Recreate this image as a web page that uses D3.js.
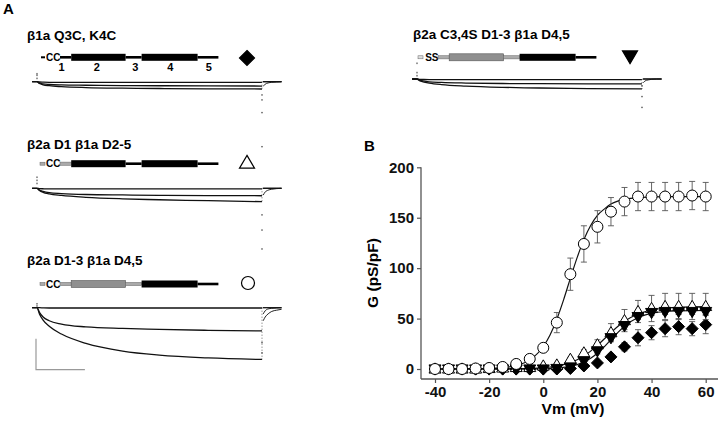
<!DOCTYPE html>
<html><head><meta charset="utf-8">
<script src="https://cdn.jsdelivr.net/npm/d3@7"></script>
<style>body{margin:0;background:#fff} svg{display:block;font-family:"Liberation Sans",Arial,sans-serif}</style>
</head><body><svg id="c" width="720" height="421"></svg>
<script>
// ---------- Panel B data ----------
const vm        = [-40,-35,-30,-25,-20,-15,-10,-5,0,5,10,15,20,25,30,35,40,45,50,55,60];
const gCircle   = [0,0,0,0.5,1,2,5,10,21,46,94,124,141,156,166,171,171,171,171,172,171];
const eCircle   = [0,0,0,0.5,1,1.5,2,3,4,10,16,18,16,14,14,14,14,14,14,14,14];
const gTriUp    = [0,0,0,0,0.5,1,1.5,1.5,3,4,9.6,16,24,36,48,57,60,62,62,62,62];
const eTriUp    = [0,0,0,0,0,0,0.5,0.5,1,1.5,2,3,5,9,11,11,13,13,13,13,13];
const gTriDown  = [0,0,0,0,0,0,0,0,0,0.5,2,8,18,31,43,52,56,57,57,57,57];
const eTriDown  = [0,0,0,0,0,0,0,0,0,0,1,2,3,3,4,3,3,3,3,3,3];
const gDiamond  = [0,0,0,0,0,0,0,0,0,0,0.5,3,6,12,22,31,36,40,42,40,44];
const eDiamond  = [0,0,0,0,0,0,0,0,0,0,1,1,2,3,4,8,7,8,8,7,9];
// fitted curves
const fitV       = [-40,-20,-15,-10,-5,0,2.5,5,7.5,10,12.5,15,17.5,20,22.5,25,27.5,30,35,40,45,50,60];
const fitCircle  = [0,0.5,1.3,3.4,8.9,22.3,33.8,49.4,68.6,89.8,110.4,128.3,142.3,152.4,158.5,163.6,166.5,168.2,170,170.6,171,171,171];
const fitTriUp   = [0,0.05,0.11,0.25,0.58,1.32,1.97,2.94,4.37,6.37,9.19,12.9,17.7,23.4,29.7,36.1,42.1,47.3,54.6,58.5,60.5,61.3,61.9];
const fitTriDown = [0,0,0.02,0.05,0.14,0.39,0.64,1.04,1.7,2.75,4.4,6.9,10.6,15.6,21.9,29,36.1,42.4,51.1,55.2,57,57.6,58];
const xTicks = [-40,-20,0,20,40,60];
const yTicks = [0,50,100,150,200];

// ---------- Panel A data ----------
const titles = ["β1a Q3C, K4C","β2a D1 β1a D2-5","β2a D1-3 β1a D4,5","β2a C3,4S D1-3 β1a D4,5"];
const tTrace = [-2,0,1,2.5,5,10,20,35,50,70,92];
const tTail  = [92.5,93.3,94.5,96,98,100];
const traces = [
  [[0,0,-0.06,-0.1,-0.13,-0.16,-0.19,-0.21,-0.22,-0.23,-0.235],
   [0,0,-0.04,-0.07,-0.09,-0.105,-0.115,-0.125,-0.13,-0.135,-0.14],
   [0,0,-0.01,-0.015,-0.02,-0.02,-0.02,-0.02,-0.02,-0.02,-0.02]],
  [[0,0,-0.07,-0.13,-0.18,-0.23,-0.29,-0.34,-0.37,-0.40,-0.43],
   [0,0,-0.06,-0.1,-0.14,-0.17,-0.2,-0.215,-0.225,-0.235,-0.24],
   [0,0,-0.01,-0.015,-0.02,-0.02,-0.02,-0.02,-0.02,-0.02,-0.02]],
  [[0,0,-0.2,-0.4,-0.6,-0.85,-1.15,-1.4,-1.53,-1.62,-1.67],
   [0,0,-0.15,-0.3,-0.42,-0.53,-0.62,-0.67,-0.7,-0.73,-0.75],
   [0,0,0,-0.005,-0.01,-0.01,-0.01,-0.01,-0.01,-0.01,-0.01]],
  [[0,0,-0.05,-0.09,-0.13,-0.18,-0.23,-0.27,-0.29,-0.31,-0.32],
   [0,0,-0.04,-0.06,-0.09,-0.11,-0.13,-0.145,-0.15,-0.155,-0.16],
   [0,0,-0.01,-0.015,-0.02,-0.02,-0.02,-0.02,-0.02,-0.02,-0.02]]
];
const tails = [
  [[-0.15,-0.08,-0.04,-0.02,-0.01,0],[0,0,0,0,0,0]],
  [[-0.22,-0.12,-0.06,-0.03,-0.01,0],[0,0,0,0,0,0]],
  [[-0.42,-0.3,-0.2,-0.12,-0.08,-0.05],[-0.2,-0.1,-0.04,-0.02,-0.01,0]],
  [[-0.12,-0.06,-0.03,-0.01,0,0],[0,0,0,0,0,0]]
];
const spikes  = [[0.2,0.1,0.25],[0.35,0.15,0.25],[0.12,0.05],[0.5,0.2,0.1]];
const tailDots = [[-0.43,-0.59,-1.0],[-0.86,-1.35,-1.96,1.34],[-1.13,-1.46],[-0.23,-0.57,-0.92]];
// construct domains (relative positions) and colouring per construct
const domainStart = [0,7,41,51,86];
const domainEnd   = [7,41,51,86,99];
const domainIsBox = [false,true,false,true,false];
const domainGray  = [[0,0,0,0,0],[1,0,0,0,0],[1,1,1,0,0],[1,1,1,0,0]];
const prefix = ["CC","CC","CC","SS"];
const domainNums = ["1","2","3","4","5"];

const svg = d3.select("#c");
const font = '"Liberation Sans",Arial,sans-serif';

// ---------- Panel A ----------
svg.append("text").attr("x",3).attr("y",14).attr("font-size",15).attr("font-weight","bold").text("A");
svg.append("text").attr("x",364).attr("y",151).attr("font-size",15).attr("font-weight","bold").text("B");

const panels = [
  {x0:37, base:81.7, title:[27,40], con:[60,57.3], mark:[247,58], sym:"diamond"},
  {x0:37, base:188.3, title:[27,149], con:[60,163.7], mark:[247,163], sym:"triUp"},
  {x0:37, base:307.7, title:[27,265], con:[60,284], mark:[248,283], sym:"circle"},
  {x0:417, base:79, title:[413,39], con:[438,57.3], mark:[630,56], sym:"triDown"}
];

function symPath(type, cx, cy, w){
  const h = w*0.85;
  if(type==="diamond") return `M${cx},${cy-w/2}L${cx+w/2},${cy}L${cx},${cy+w/2}L${cx-w/2},${cy}Z`;
  if(type==="triUp") return `M${cx},${cy-h*0.6}L${cx+w/2},${cy+h*0.4}L${cx-w/2},${cy+h*0.4}Z`;
  if(type==="triDown") return `M${cx},${cy+h*0.6}L${cx+w/2},${cy-h*0.4}L${cx-w/2},${cy-h*0.4}Z`;
  return null;
}
function drawSym(g, type, cx, cy, w, fill, sw){
  if(type==="circle"){
    g.append("circle").attr("cx",cx).attr("cy",cy).attr("r",w/2).attr("fill",fill).attr("stroke","#000").attr("stroke-width",sw);
  } else {
    g.append("path").attr("d",symPath(type,cx,cy,w)).attr("fill",fill).attr("stroke","#000").attr("stroke-width",sw).attr("stroke-linejoin","miter");
  }
}
const symFill = {diamond:"#000", triDown:"#000", triUp:"#fff", circle:"#fff"};

panels.forEach((p,i)=>{
  const g = svg.append("g");
  g.append("text").attr("x",p.title[0]).attr("y",p.title[1]).attr("font-size",13.5).attr("font-weight","bold").text(titles[i]);
  // construct
  const cs = d3.scaleLinear().domain([0,100]).range([p.con[0], p.con[0]+160]);
  const cy = p.con[1];
  const gray = domainGray[i];
  if(i===0){
    g.append("rect").attr("x",cs(0)-19).attr("y",cy-1).attr("width",4).attr("height",2).attr("fill","#000");
  } else {
    g.append("rect").attr("x",cs(0)-20).attr("y",cy-1.5).attr("width",5).attr("height",3).attr("fill",i===3?"#ddd":"#aaa").attr("stroke","#666").attr("stroke-width",0.5);
  }
  g.append("text").attr("x",cs(0)+0.5).attr("y",cy+3.6).attr("text-anchor","end").attr("font-size",10).attr("font-weight","bold").text(prefix[i]);
  domainStart.forEach((s,k)=>{
    const e = domainEnd[k];
    const isG = gray[k]===1;
    if(domainIsBox[k]){
      g.append("rect").attr("x",cs(s)).attr("y",cy-3.5).attr("width",cs(e)-cs(s)).attr("height",7)
        .attr("fill",isG?"#8f8f8f":"#000").attr("stroke",isG?"#555":"none").attr("stroke-width",0.6);
    } else {
      if(isG){
        g.append("rect").attr("x",cs(s)).attr("y",cy-1.6).attr("width",cs(e)-cs(s)).attr("height",3.2)
          .attr("fill","#aaa").attr("stroke","#666").attr("stroke-width",0.5);
      } else {
        g.append("rect").attr("x",cs(s)).attr("y",cy-1.3).attr("width",cs(e)-cs(s)).attr("height",2.6).attr("fill","#000");
      }
    }
  });
  if(i===0){
    const numX = [1,23,47,69,93];
    domainNums.forEach((n,k)=>{
      g.append("text").attr("x",cs(numX[k])).attr("y",cy+14).attr("text-anchor","middle").attr("font-size",11).attr("font-weight","bold").text(n);
    });
  }
  const mw = p.sym==="circle"?13:15;
  drawSym(g, p.sym, p.mark[0], p.mark[1], mw, symFill[p.sym], 1.2);

  // traces
  const tx = d3.scaleLinear().domain([0,92]).range([p.x0, p.x0+225]);
  const ty = d3.scaleLinear().domain([0,-1]).range([p.base, p.base+31]);
  const line = d3.line().x(d=>tx(d[0])).y(d=>ty(d[1])).curve(d3.curveMonotoneX);
  traces[i].forEach(tr=>{
    g.append("path").attr("d",line(tTrace.map((t,j)=>[t,tr[j]]))).attr("fill","none").attr("stroke","#111").attr("stroke-width",1.3);
  });
  tails[i].forEach(tr=>{
    g.append("path").attr("d",line(tTail.map((t,j)=>[t,tr[j]]))).attr("fill","none").attr("stroke","#222").attr("stroke-width",1);
  });
  g.append("line").attr("x1",tx(92.3)).attr("x2",tx(100)).attr("y1",ty(0)).attr("y2",ty(0)).attr("stroke","#111").attr("stroke-width",1.3);
  spikes[i].forEach(v=>{
    g.append("rect").attr("x",tx(0)-0.5).attr("y",ty(v)-1).attr("width",1).attr("height",1.6).attr("fill","#333");
  });
  tailDots[i].forEach(v=>{
    g.append("rect").attr("x",tx(92)-0.6).attr("y",ty(v)-0.8).attr("width",1.2).attr("height",1.4).attr("fill","#333");
  });
  g.append("line").attr("x1",tx(92)).attr("x2",tx(92)).attr("y1",ty(0)).attr("y2",ty(traces[i][0][10])).attr("stroke","#444").attr("stroke-width",0.8).attr("stroke-dasharray","1,2");
  if(i===2){
    const bx0 = tx(0)-1, by0 = ty(-2);
    g.append("path").attr("d",`M${bx0},${by0-31}V${by0}H${bx0+tx(20)-tx(0)}`).attr("fill","none").attr("stroke","#999").attr("stroke-width",1.2);
  }
});

// ---------- Panel B ----------
const x = d3.scaleLinear().domain([-40,60]).range([435,705.7]);
const y = d3.scaleLinear().domain([0,200]).range([369,167.3]);
const gB = svg.append("g");
const axCol = "#555";
gB.append("line").attr("x1",421).attr("x2",421).attr("y1",y(200)).attr("y2",379).attr("stroke",axCol).attr("stroke-width",1.3);
gB.append("line").attr("x1",421).attr("x2",718).attr("y1",379).attr("y2",379).attr("stroke",axCol).attr("stroke-width",1.3);
const yAx = gB.append("g").attr("transform","translate(421,0)").call(d3.axisLeft(y).tickValues(yTicks).tickSize(4).tickPadding(3));
const xAx = gB.append("g").attr("transform","translate(0,379)").call(d3.axisBottom(x).tickValues(xTicks).tickSize(4).tickPadding(3).tickFormat(d=>String(d)));
[yAx,xAx].forEach(a=>{
  a.select(".domain").remove();
  a.selectAll("line").attr("stroke",axCol).attr("stroke-width",1.2);
  a.selectAll("text").attr("font-family",font).attr("font-size",15).attr("font-weight","bold").attr("fill","#111");
});
xAx.selectAll("text").attr("dy","0.72em");
gB.append("text").attr("x",573).attr("y",414).attr("text-anchor","middle").attr("font-size",15.5).attr("font-weight","bold").text("Vm (mV)");
gB.append("text").attr("transform","translate(378,273) rotate(-90)").attr("text-anchor","middle").attr("font-size",15.5).attr("font-weight","bold").text("G (pS/pF)");

const fitLine = d3.line().x(d=>x(d[0])).y(d=>y(d[1])).curve(d3.curveMonotoneX);
[fitCircle, fitTriUp, fitTriDown].forEach(arr=>{
  gB.append("path").attr("d",fitLine(fitV.map((v,j)=>[v,arr[j]]))).attr("fill","none").attr("stroke","#111").attr("stroke-width",1.2);
});

const series = [
  {g:gDiamond, e:eDiamond, sym:"diamond", w:12},
  {g:gTriUp, e:eTriUp, sym:"triUp", w:12},
  {g:gTriDown, e:eTriDown, sym:"triDown", w:12},
  {g:gCircle, e:eCircle, sym:"circle", w:11}
];
series.forEach(s=>{
  const gs = gB.append("g");
  vm.forEach((v,j)=>{
    if(s.e[j] > 0.5){
      const cx = x(v), yt = y(s.g[j]+s.e[j]), yb = y(s.g[j]-s.e[j]);
      gs.append("path").attr("d",`M${cx},${yt}V${yb}M${cx-3},${yt}H${cx+3}M${cx-3},${yb}H${cx+3}`)
        .attr("stroke","#555").attr("stroke-width",0.9).attr("fill","none");
    }
  });
  vm.forEach((v,j)=>{
    drawSym(gs, s.sym, x(v), y(s.g[j]), s.w, symFill[s.sym], 1);
  });
});
</script></body></html>
